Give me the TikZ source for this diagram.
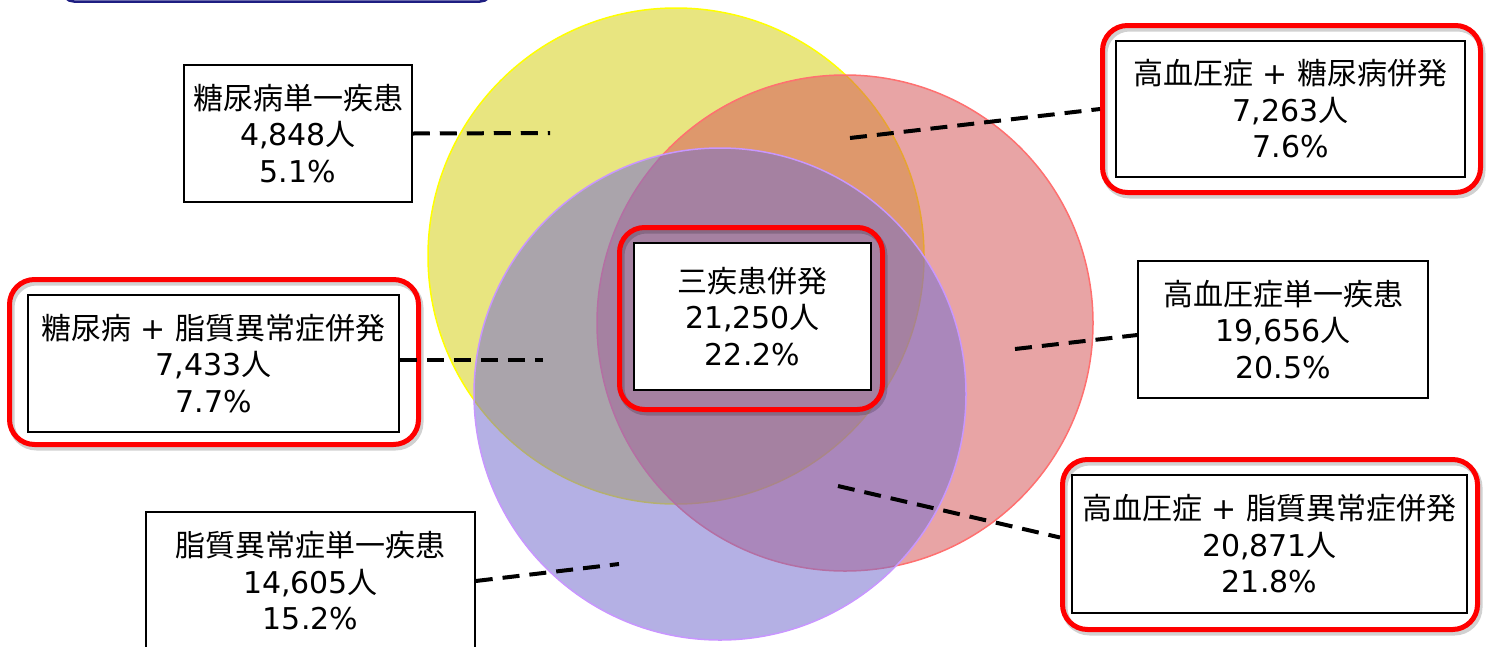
\documentclass[tikz,border=0pt]{standalone}
\usepackage{fontspec}
\setmainfont{DejaVu Sans}
\newfontfamily\cjk{Noto Sans CJK JP}
\definecolor{yfill}{RGB}{213,208,24}
\definecolor{yline}{RGB}{255,255,0}
\definecolor{rfill}{RGB}{213,90,91}
\definecolor{rline}{RGB}{255,112,112}
\definecolor{pfill}{RGB}{119,111,206}
\definecolor{pline}{RGB}{200,150,255}
\definecolor{navy}{RGB}{30,30,130}
\begin{document}
\begin{tikzpicture}[x=1pt,y=-1pt,
  txt/.style={font=\fontsize{30}{36.5}\selectfont, align=center, text=black},
  plainbox/.style={txt, draw=black, line width=1.5pt, fill=white, inner sep=0pt},
  redbox/.style={draw=red, line width=5pt, rounded corners=25pt, inner sep=0pt},
  redshadow/.style={draw=black, draw opacity=0.18, line width=6pt, rounded corners=25pt, inner sep=0pt},
  dashline/.style={line width=4pt, dash pattern=on 17pt off 10pt, black},
  venn/.style={fill opacity=0.55, line width=1.5pt}]
\useasboundingbox (0,0) rectangle (1491,646);
\clip (0,0) rectangle (1491,646);
% top bar fragment
\draw[navy, line width=2.5pt, rounded corners=12pt, fill=white] (62,-40) rectangle (492,1.5);
% venn circles
\draw[venn, draw=yline, fill=yfill] (676,256) circle[radius=248];
\draw[venn, draw=rline, fill=rfill] (845,323) circle[radius=248];
\draw[venn, draw=pline, fill=pfill] (720,394) circle[radius=246];
% free ends of connectors
\coordinate (e1) at (550,133);
\coordinate (e2) at (850,138);
\coordinate (e3) at (1015,349);
\coordinate (e4) at (543,360);
\coordinate (e5) at (838,486);
\coordinate (e6) at (619,564);
% red frames (shadows first)
\node[redshadow, minimum width=378pt, minimum height=167pt] at (1293.5,112) {};
\node[redshadow, minimum width=263pt, minimum height=182pt] at (753,321.5) {};
\node[redshadow, minimum width=409pt, minimum height=165pt] at (216,365) {};
\node[redshadow, minimum width=415pt, minimum height=170pt] at (1272,547.5) {};
\node[redbox, minimum width=378pt, minimum height=167pt] (r2) at (1291.5,109) {};
\node[redbox, minimum width=263pt, minimum height=182pt] (r3) at (751,318.5) {};
\node[redbox, minimum width=409pt, minimum height=165pt] (r5) at (214,362) {};
\node[redbox, minimum width=415pt, minimum height=170pt] (r6) at (1270,544.5) {};
% boxes
\node[plainbox, minimum width=228pt, minimum height=137pt] (b1) at (298,133.5)
  {{\cjk 糖尿病単一疾患}\\4,848{\cjk 人}\\5.1\%};
\node[plainbox, minimum width=349pt, minimum height=136pt] (b2) at (1290.5,109)
  {{\cjk 高血圧症} + {\cjk 糖尿病併発}\\7,263{\cjk 人}\\7.6\%};
\node[plainbox, minimum width=237pt, minimum height=147pt] (b3) at (752.5,316.5)
  {{\cjk 三疾患併発}\\21,250{\cjk 人}\\22.2\%};
\node[plainbox, minimum width=290pt, minimum height=137pt] (b4) at (1283,329.5)
  {{\cjk 高血圧症単一疾患}\\19,656{\cjk 人}\\20.5\%};
\node[plainbox, minimum width=371pt, minimum height=137pt] (b5) at (213.5,363.5)
  {{\cjk 糖尿病} + {\cjk 脂質異常症併発}\\7,433{\cjk 人}\\7.7\%};
\node[plainbox, minimum width=395pt, minimum height=138pt] (b6) at (1269.5,544)
  {{\cjk 高血圧症} + {\cjk 脂質異常症併発}\\20,871{\cjk 人}\\21.8\%};
\node[plainbox, minimum width=329pt, minimum height=138pt] (b7) at (310.5,581)
  {{\cjk 脂質異常症単一疾患}\\14,605{\cjk 人}\\15.2\%};
% connectors
\draw[dashline] (b1.east) -- (e1);
\draw[dashline] (e2) -- (r2.west);
\draw[dashline] (e3) -- ([yshift=-5.5pt]b4.west);
\draw[dashline] ([yshift=3.5pt]b5.east) -- (e4);
\draw[dashline] (e5) -- ([yshift=7pt]r6.west);
\draw[dashline] (b7.east) -- (e6);
\end{tikzpicture}
\end{document}
